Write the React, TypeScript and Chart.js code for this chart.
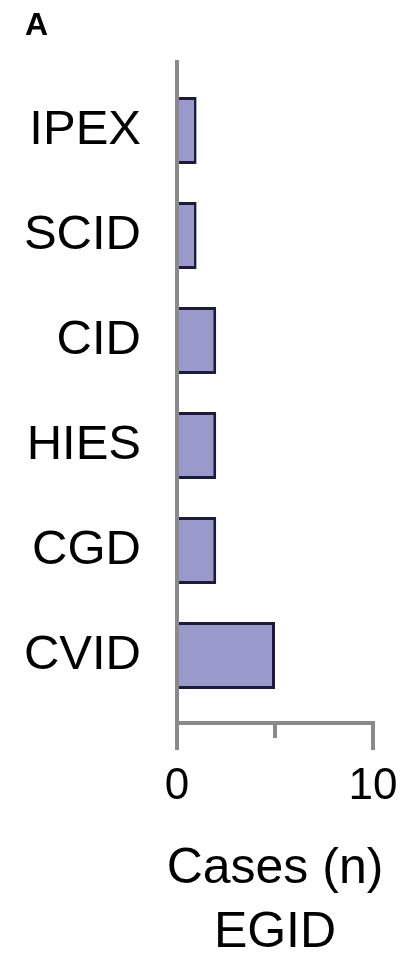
import React, { useEffect, useRef } from "react";
import { Chart, registerables } from "chart.js";

Chart.register(...registerables);

const categories: string[] = ["IPEX", "SCID", "CID", "HIES", "CGD", "CVID"];
const cases: number[] = [1, 1, 2, 2, 2, 5];
const xTickValues: number[] = [0, 5, 10];
const xLabeledTicks: number[] = [0, 10];
const axisTitle: string[] = ["Cases (n)", "EGID"];
const panelLabel = "A";

const FONT = "'Liberation Sans', Arial, Helvetica, sans-serif";
const AXIS_COLOR = "#8a8a8a";
const BAR_FILL = "#9999cc";
const BAR_EDGE = "#1c1c3a";

const axisPlugin = {
  id: "customAxes",
  afterDatasetsDraw(chart: any) {
    const { ctx, chartArea, scales } = chart;
    const xs = scales.x;
    const x0 = xs.getPixelForValue(xs.min);
    const x1 = xs.getPixelForValue(xs.max);
    const axisY = chartArea.bottom + 15;
    ctx.save();
    ctx.strokeStyle = AXIS_COLOR;
    ctx.lineWidth = 4;
    ctx.lineCap = "butt";
    ctx.beginPath();
    ctx.moveTo(x0, chartArea.top - 18);
    ctx.lineTo(x0, axisY);
    ctx.moveTo(x0 - 2, axisY);
    ctx.lineTo(x1 + 2, axisY);
    xs.ticks.forEach((t: any) => {
      const px = xs.getPixelForValue(t.value);
      const len = xLabeledTicks.includes(t.value) ? 27 : 15;
      ctx.moveTo(px, axisY);
      ctx.lineTo(px, axisY + len);
    });
    ctx.stroke();

    // axis title (drawn here so it is not squeezed to the axis width)
    ctx.fillStyle = "#000";
    ctx.font = `50px ${FONT}`;
    ctx.textAlign = "center";
    ctx.textBaseline = "alphabetic";
    const cx = (x0 + x1) / 2;
    axisTitle.forEach((line, i) => {
      ctx.fillText(line, cx, chartArea.bottom + 175 + i * 64);
    });
    ctx.restore();
  },
};

export default function App() {
  const ref = useRef<HTMLCanvasElement | null>(null);

  useEffect(() => {
    if (!ref.current) return;
    const chart = new Chart(ref.current, {
      type: "bar",
      data: {
        labels: categories,
        datasets: [
          {
            data: cases,
            backgroundColor: BAR_FILL,
            borderColor: BAR_EDGE,
            borderWidth: 3,
            borderSkipped: "start",
            categoryPercentage: 1,
            barPercentage: 0.64,
          },
        ],
      },
      options: {
        indexAxis: "y",
        responsive: false,
        animation: false,
        devicePixelRatio: 1,
        layout: { padding: { top: 78, right: 35, left: 0, bottom: 0 } },
        plugins: {
          legend: { display: false },
          tooltip: { enabled: false },
          title: { display: false },
        },
        scales: {
          y: {
            type: "category",
            grid: { display: false, drawTicks: false },
            border: { display: false },
            ticks: {
              color: "#000",
              padding: 36,
              font: { family: FONT, size: 49 },
              autoSkip: false,
            },
            afterFit: (scale: any) => {
              scale.width = 177;
              scale.paddingTop = 0;
              scale.paddingBottom = 0;
            },
          },
          x: {
            type: "linear",
            min: 0,
            max: 10,
            grid: { display: false, drawTicks: true, tickLength: 52 },
            border: { display: false },
            afterBuildTicks: (scale: any) => {
              scale.ticks = xTickValues.map((v) => ({ value: v }));
            },
            ticks: {
              color: "#000",
              padding: 0,
              font: { family: FONT, size: 44 },
              maxRotation: 0,
              autoSkip: false,
              callback: (v: any) => (xLabeledTicks.includes(Number(v)) ? String(v) : ""),
            },
            title: { display: false },
            afterFit: (scale: any) => {
              scale.height = 250;
              scale.paddingLeft = 0;
              scale.paddingRight = 0;
            },
          },
        },
      },
      plugins: [axisPlugin],
    } as any);
    return () => chart.destroy();
  }, []);

  return (
    <div style={{ position: "absolute", left: 0, top: 0, width: 408, height: 958, background: "#fff" }}>
      <canvas ref={ref} width={408} height={958} style={{ display: "block" }} />
      <div
        style={{
          position: "absolute",
          left: 25,
          top: 8,
          fontFamily: FONT,
          fontWeight: "bold",
          fontSize: 32,
          lineHeight: "32px",
          color: "#000",
        }}
      >
        {panelLabel}
      </div>
    </div>
  );
}
